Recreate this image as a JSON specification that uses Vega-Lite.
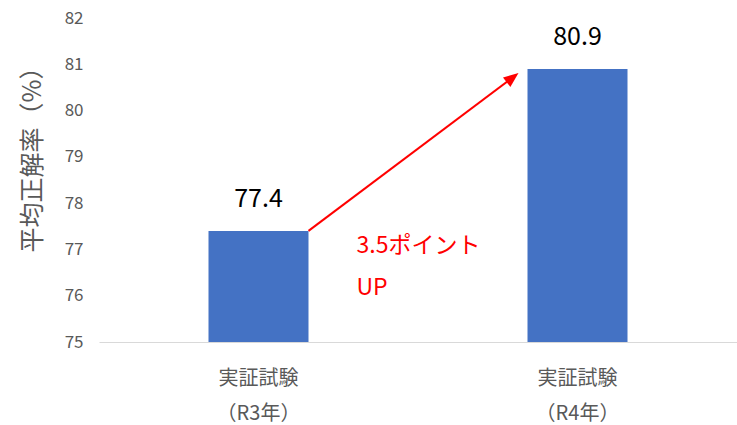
{
  "$schema": "https://vega.github.io/schema/vega-lite/v6.json",
  "width": 638,
  "height": 324,
  "autosize": {"type": "none"},
  "padding": {"left": 99, "top": 18, "right": 0, "bottom": 83},
  "background": "white",
  "config": {
    "view": {"stroke": null},
    "font": "Noto Sans CJK JP"
  },
  "datasets": {
    "bars": [
      {"cat": "実証試験|（R3年）", "value": 77.4, "base": 75},
      {"cat": "実証試験|（R4年）", "value": 80.9, "base": 75}
    ],
    "arrow": [
      {"from": "実証試験|（R3年）", "to": "実証試験|（R4年）", "y": 77.4, "y2": 80.9}
    ],
    "notes": [
      {"cat": "実証試験|（R3年）", "y": 76.92, "text": "3.5ポイント"},
      {"cat": "実証試験|（R3年）", "y": 76.02, "text": "UP"}
    ]
  },
  "encoding": {
    "x": {
      "field": "cat",
      "type": "nominal",
      "sort": null,
      "scale": {"paddingInner": 0, "paddingOuter": 0},
      "axis": {
        "title": null,
        "labelAngle": 0,
        "labelExpr": "split(datum.label, '|')",
        "labelFontSize": 20,
        "labelColor": "#595959",
        "labelLineHeight": 35,
        "labelPadding": 26,
        "ticks": false,
        "domainColor": "#d9d9d9",
        "domainWidth": 1
      }
    }
  },
  "layer": [
    {
      "data": {"name": "bars"},
      "mark": {"type": "bar", "size": 100, "color": "#4472C4"},
      "encoding": {
        "y": {
          "field": "value",
          "type": "quantitative",
          "scale": {"domain": [75, 82], "zero": false, "nice": false},
          "axis": {
            "title": "平均正解率（%）",
            "titleFontSize": 25,
            "titleFontWeight": "normal",
            "titleColor": "#595959",
            "titlePadding": 19,
            "titleY": 135,
            "values": [75, 76, 77, 78, 79, 80, 81, 82],
            "labelFontSize": 17,
            "labelColor": "#595959",
            "labelPadding": 16,
            "ticks": false,
            "domain": false,
            "grid": false
          }
        },
        "y2": {"field": "base"}
      }
    },
    {
      "data": {"name": "bars"},
      "mark": {"type": "text", "fontSize": 25, "color": "#000000", "baseline": "alphabetic", "dy": -24},
      "encoding": {
        "y": {"field": "value", "type": "quantitative"},
        "text": {"field": "value", "type": "quantitative", "format": ".1f"}
      }
    },
    {
      "data": {"name": "arrow"},
      "mark": {"type": "rule", "color": "#FF0000", "strokeWidth": 2, "xOffset": 50, "x2Offset": -64, "y2Offset": 8},
      "encoding": {
        "x": {"field": "from", "type": "nominal", "sort": null},
        "x2": {"field": "to"},
        "y": {"field": "y", "type": "quantitative"},
        "y2": {"field": "y2"}
      }
    },
    {
      "data": {"name": "arrow"},
      "mark": {"type": "point", "shape": "M0,0L-0.6,1.5L0.6,1.5Z", "filled": true, "color": "#FF0000", "opacity": 1, "size": 400, "angle": 52, "xOffset": -59, "yOffset": 4},
      "encoding": {
        "x": {"field": "to", "type": "nominal", "sort": null},
        "y": {"field": "y2", "type": "quantitative"}
      }
    },
    {
      "data": {"name": "notes"},
      "mark": {"type": "text", "fontSize": 23, "color": "#FF0000", "align": "left", "baseline": "alphabetic", "xOffset": 98},
      "encoding": {
        "y": {"field": "y", "type": "quantitative"},
        "text": {"field": "text"}
      }
    }
  ]
}
